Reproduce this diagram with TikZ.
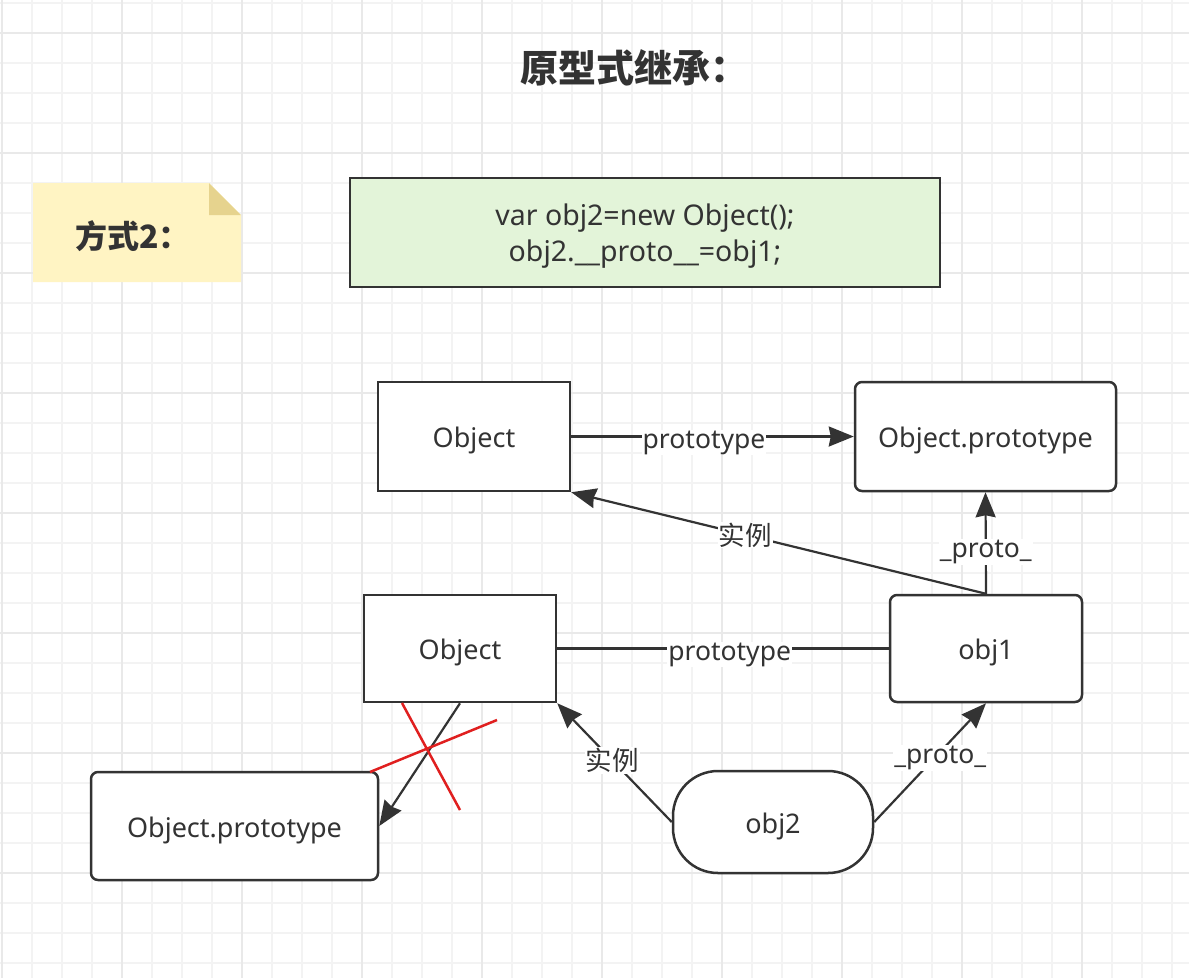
\documentclass[tikz,border=0pt]{standalone}
\usepackage{fontspec}
\setmainfont{Noto Sans}
\newfontfamily\cjk{Noto Sans CJK SC}
\usepackage{xcolor}
\usetikzlibrary{arrows.meta}
\definecolor{ink}{HTML}{333333}
\definecolor{gridminor}{HTML}{F3F3F3}
\definecolor{gridmajor}{HTML}{E9E9E9}
\definecolor{notefill}{HTML}{FFF4C3}
\definecolor{notefold}{HTML}{E6D38E}
\definecolor{codefill}{HTML}{E3F4D9}
\definecolor{cross}{HTML}{E01F1F}
\newcommand\protogrid[2]{
  \def\X{#1} \def\Y{#2}
  \foreach \i in {2,32,...,\X}
  {
    \draw[gridminor,line width=2pt] (\i,0) -- (\i,\Y);
  }
  \foreach \j in {3,33,...,\Y}
  {
    \draw[gridminor,line width=2pt] (0,\j) -- (\X,\j);
  }
  \foreach \i in {2,122,...,\X}
  {
    \draw[gridmajor,line width=2.5pt] (\i,0) -- (\i,\Y);
  }
  \foreach \j in {33,153,...,\Y}
  {
    \draw[gridmajor,line width=2.5pt] (0,\j) -- (\X,\j);
  }
}

\begin{document}
\begin{tikzpicture}[x=1pt, y=-1pt,
  every node/.style={text=ink,font=\fontsize{27}{34}\selectfont},
  box/.style={draw=ink,line width=2.5pt,fill=white,inner sep=0pt,text height=22pt,text depth=0pt},
  rbox/.style={box,rounded corners=7pt},
  lbl/.style={fill=white,inner sep=1pt,font=\fontsize{26.5}{32}\selectfont},
  latin/.style={lbl,yshift=-6pt},
  link/.style={draw=ink,line width=2.2pt},
  tip/.style={link,-{Stealth[length=25pt,width=20pt,inset=2pt]}}]
\useasboundingbox (0,0) rectangle (1189,978);
\fill[white] (0,0) rectangle (1189,978);
\protogrid{1189}{978}

% title
\node (title) at (634,68) {\cjk\bfseries\fontsize{38}{42}\selectfont 原型式继承：};

% note
\fill[notefill] (33,183) -- (209,183) -- (241,215) -- (241,282) -- (33,282) -- cycle;
\fill[notefold] (209,183) -- (209,215) -- (241,215) -- cycle;
\node (note) at (133,236) {\cjk\bfseries\fontsize{32}{36}\selectfont 方式2：};

% code
\node[draw=ink,line width=2.5pt,fill=codefill,minimum width=590pt,minimum height=109pt,align=center,
  text depth=0pt,font=\fontsize{28.5}{36}\selectfont]
  (code) at (645,232.5) {var obj2=new Object();\\obj2.\_\_proto\_\_=obj1;};

\node[box,minimum width=192pt,minimum height=109pt] (objA) at (474,436.5) {Object};
\node[rbox,minimum width=261pt,minimum height=109pt] (objproA) at (985.5,436.5) {Object.prototype};
\node[box,minimum width=192pt,minimum height=107pt] (objB) at (460,648.5) {Object};
\node[rbox,minimum width=192pt,minimum height=107pt] (objone) at (986,648.5) {obj1};
\node[rbox,minimum width=287pt,minimum height=108pt] (objproB) at (234.5,826) {Object.prototype};
\node[box,rounded corners=45pt,minimum width=200pt,minimum height=102pt] (objtwo) at (773,822) {obj2};

\draw[tip] (objA) -- node[latin,pos=0.47]{prototype} (objproA);
\draw[tip] (objone.north) -- node[lbl,pos=0.58]{\cjk 实例} (objA.south east);
\draw[tip] (objone.north) -- node[latin,pos=0.47]{\_proto\_} (objproA.south);
\draw[link] (objB) -- node[latin,pos=0.52]{prototype} (objone);
\draw[tip] (objtwo.west) -- node[lbl,pos=0.52]{\cjk 实例} (objB.south east);
\draw[tip] (objtwo.east) -- node[latin,pos=0.59]{\_proto\_} (objone.south);
\draw[tip] (objB.south) -- (objproB.east);

% cross
\draw[cross,line width=2.5pt] (402,703) -- (460,810);
\draw[cross,line width=2.5pt] (370,772) -- (497,720);
\end{tikzpicture}
\end{document}
